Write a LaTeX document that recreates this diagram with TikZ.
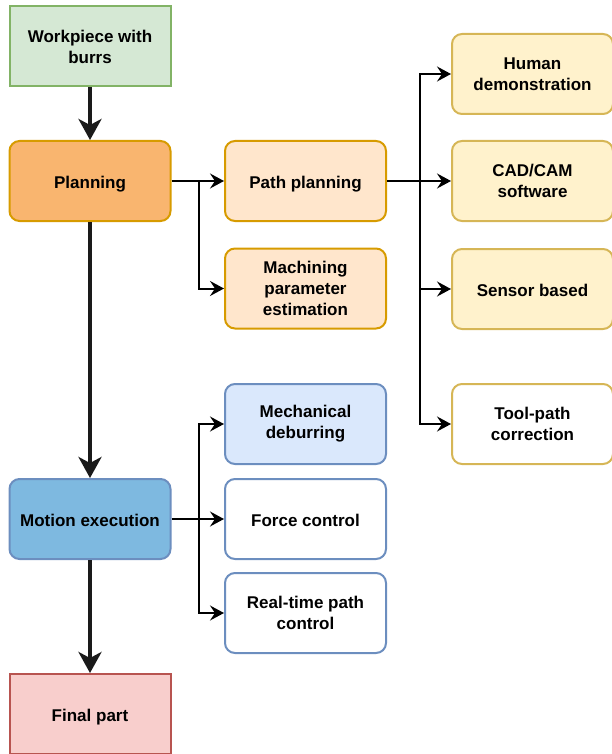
\documentclass[tikz,border=0pt]{standalone}
\usepackage{fontspec}
\setmainfont{Liberation Sans}
\usetikzlibrary{arrows.meta}

\definecolor{greenfill}{HTML}{D5E8D4}
\definecolor{greenline}{HTML}{82B366}
\definecolor{orangefill}{HTML}{F9B56F}
\definecolor{orangelight}{HTML}{FFE6CC}
\definecolor{orangeline}{HTML}{D79B00}
\definecolor{yellowfill}{HTML}{FFF2CC}
\definecolor{yellowline}{HTML}{D6B656}
\definecolor{bluefill}{HTML}{7EB9E0}
\definecolor{bluelight}{HTML}{DAE8FC}
\definecolor{blueline}{HTML}{6C8EBF}
\definecolor{redfill}{HTML}{F8CECC}
\definecolor{redline}{HTML}{B85450}
\definecolor{flowdark}{HTML}{1A1A1A}

\tikzset{
  box/.style={draw, line width=2pt, minimum width=161pt, minimum height=80pt,
    align=center, inner sep=2pt,
    font=\fontsize{17}{21}\selectfont\bfseries, text=black},
  roundbox/.style={box, rounded corners=10pt},
  % single-line labels: fixed text box so the baseline sits like the others
  oneline/.style={text height=17pt, text depth=2pt},
  % multi-line labels: taller first line nudges the block down a little
  multiline/.style={execute at begin node={\rule{0pt}{16.5pt}}},
  mainflow/.style={draw=flowdark, line width=4.5pt,
    -{Stealth[length=21pt, width=23pt, inset=6pt]}},
  branch/.style={draw=black, line width=2pt,
    -{Stealth[length=14pt, width=15pt, inset=5pt]}},
}

\begin{document}
\begin{tikzpicture}[x=1pt, y=-1pt]
  \useasboundingbox (0,0) rectangle (612,754);

  % main column
  \node[box, multiline, fill=greenfill, draw=greenline] (work) at (90,46.5) {Workpiece with\\burrs};
  \node[roundbox, oneline, fill=orangefill, draw=orangeline] (plan) at (90,181) {Planning};
  \node[roundbox, oneline, fill=bluefill, draw=blueline] (motion) at (90,519) {Motion execution};
  \node[box, oneline, fill=redfill, draw=redline] (final) at (90,714) {Final part};

  % planning branches
  \node[roundbox, oneline, fill=orangelight, draw=orangeline] (path) at (305.5,181) {Path planning};
  \node[roundbox, multiline, fill=orangelight, draw=orangeline] (mach) at (305.5,288.5) {Machining\\parameter\\estimation};

  % path planning sources
  \node[roundbox, multiline, fill=yellowfill, draw=yellowline] (human) at (532.5,74) {Human\\demonstration};
  \node[roundbox, multiline, fill=yellowfill, draw=yellowline] (cad) at (532.5,181) {CAD/CAM\\software};
  \node[roundbox, oneline, fill=yellowfill, draw=yellowline] (sensor) at (532.5,289) {Sensor based};
  \node[roundbox, multiline, fill=white, draw=yellowline] (tool) at (532.5,424) {Tool-path\\correction};

  % motion execution branches
  \node[roundbox, multiline, fill=bluelight, draw=blueline] (mech) at (305.5,424) {Mechanical\\deburring};
  \node[roundbox, oneline, fill=white, draw=blueline] (force) at (305.5,519) {Force control};
  \node[roundbox, multiline, fill=white, draw=blueline] (rt) at (305.5,613) {Real-time path\\control};

  % main flow
  \draw[mainflow] (work) -- (plan);
  \draw[mainflow] (plan) -- (motion);
  \draw[mainflow] (motion) -- (final);

  % branch connectors
  \coordinate (pj) at (199,181);
  \coordinate (qj) at (420,181);
  \coordinate (mj) at (199,519);

  \draw[branch] (plan.east) -- (path.west);
  \draw[branch] (pj) |- (mach.west);

  \draw[branch] (path.east) -- (cad.west);
  \draw[branch] (qj) |- (human.west);
  \draw[branch] (qj) |- (sensor.west);
  \draw[branch] (qj) |- (tool.west);

  \draw[branch] (motion.east) -- (force.west);
  \draw[branch] (mj) |- (mech.west);
  \draw[branch] (mj) |- (rt.west);
\end{tikzpicture}
\end{document}
